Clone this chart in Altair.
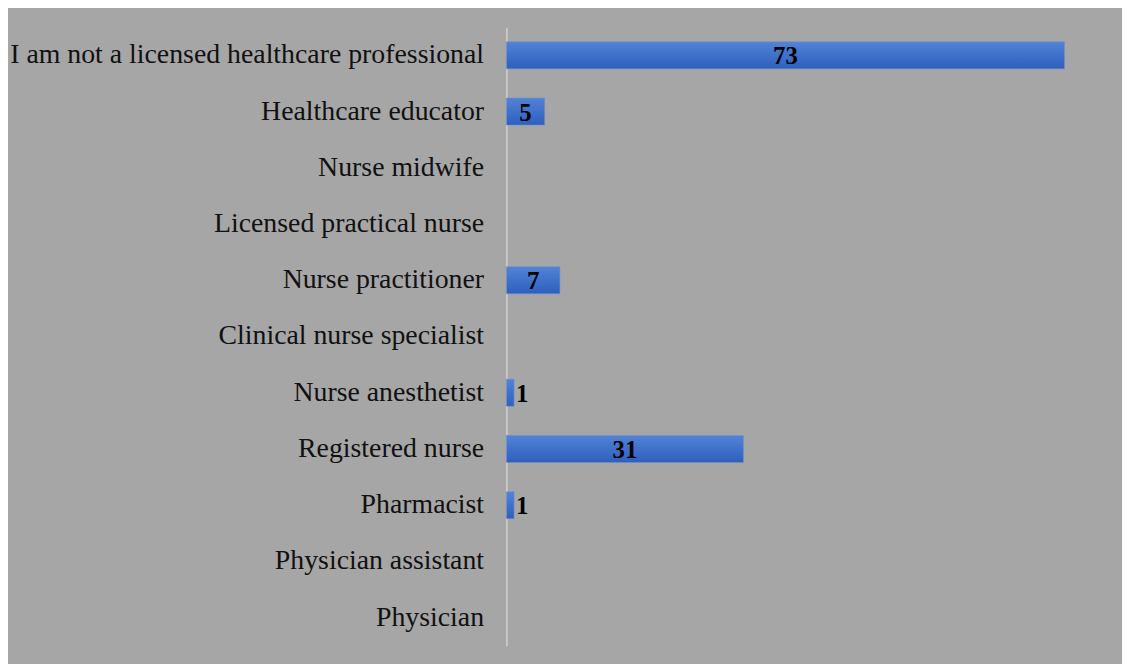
import altair as alt
import pandas as pd

categories = [
    "I am not a licensed healthcare professional",
    "Healthcare educator",
    "Nurse midwife",
    "Licensed practical nurse",
    "Nurse practitioner",
    "Clinical nurse specialist",
    "Nurse anesthetist",
    "Registered nurse",
    "Pharmacist",
    "Physician assistant",
    "Physician",
]
counts = [73, 5, 0, 0, 7, 0, 1, 31, 1, 0, 0]

df = pd.DataFrame({"category": categories, "count": counts})

y_scale = alt.Scale(domain=categories, paddingInner=0.52, paddingOuter=0.26)

y_enc = alt.Y(
    "category:N",
    scale=y_scale,
    axis=alt.Axis(
        title=None,
        ticks=False,
        labelFont="Liberation Serif",
        labelFontSize=28,
        labelColor="#111111",
        labelPadding=23,
        domainColor="#dcdcdc",
        domainWidth=1.2,
        labelLimit=600,
    ),
)
x_scale = alt.Scale(domain=[0, 80])

gradient = alt.Gradient(
    gradient="linear",
    x1=0, y1=0, x2=0, y2=1,
    stops=[
        alt.GradientStop(color="#5283d6", offset=0),
        alt.GradientStop(color="#2e5fbe", offset=1),
    ],
)

bars = alt.Chart(df).transform_filter("datum.count > 0").mark_bar(
    color=gradient, stroke="#6a8fd0", strokeWidth=0.6
).encode(
    y=y_enc,
    x=alt.X("count:Q", scale=x_scale, axis=None),
)

inside = alt.Chart(df).transform_filter("datum.count > 1").transform_calculate(
    mid="datum.count / 2"
).mark_text(
    font="Liberation Serif", fontSize=25, fontWeight="bold", color="#000000",
    align="center", baseline="middle", dy=1,
).encode(
    y=alt.Y("category:N", scale=y_scale),
    x=alt.X("mid:Q", scale=x_scale),
    text="count:Q",
)

outside = alt.Chart(df).transform_filter("datum.count == 1").mark_text(
    font="Liberation Serif", fontSize=25, fontWeight="bold", color="#000000",
    align="left", baseline="middle", dx=2, dy=1,
).encode(
    y=alt.Y("category:N", scale=y_scale),
    x=alt.X("count:Q", scale=x_scale),
    text="count:Q",
)

chart = alt.layer(bars, inside, outside).properties(
    width=616,
    height=623,
    background="#a6a6a6",
    padding={"left": 502, "top": 17, "right": 4, "bottom": 16},
    autosize=alt.AutoSizeParams(type="none"),
).configure_view(stroke=None)

chart.save("out.html", embed_options={"renderer": "svg", "actions": False})
